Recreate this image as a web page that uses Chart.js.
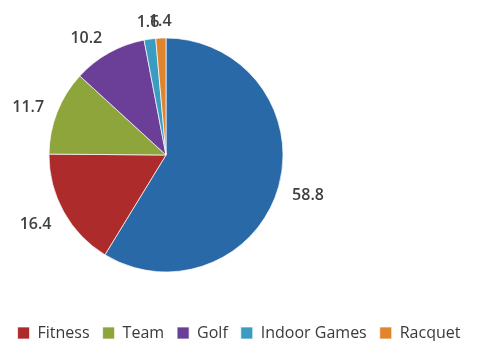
<!DOCTYPE html>
<html>
<head>
<meta charset="utf-8">
<script src="https://cdn.jsdelivr.net/npm/chart.js@4.4.1/dist/chart.umd.min.js"></script>
<style>
  html, body { margin: 0; padding: 0; background: #fff; }
  #wrap { width: 478px; height: 341px; }
</style>
</head>
<body>
<div id="wrap"><canvas id="sportsPie"></canvas></div>
<script>
// share of participants by sport category (percent)
const categories = ['Other', 'Fitness', 'Team', 'Golf', 'Indoor Games', 'Racquet'];
const shares = [58.8, 16.4, 11.7, 10.2, 1.6, 1.4];
const sliceColors = ['#2a69a8', '#ae2b2b', '#8ea53b', '#6b3f97', '#3a9cc0', '#e0842e'];

// pie sits left of centre, legend hugs the bottom edge
const pieCenter = { x: 166, y: 155 };
const legendDrop = 10;

const movePie = {
  id: 'movePie',
  afterLayout(chart) {
    const a = chart.chartArea;
    const dx = pieCenter.x - (a.left + a.right) / 2;
    const dy = pieCenter.y - (a.top + a.bottom) / 2;
    a.left += dx; a.right += dx;
    a.top += dy; a.bottom += dy;
    chart.legend.top += legendDrop;
    chart.legend.bottom += legendDrop;
  }
};

// value labels just outside each slice
const outsideLabels = {
  id: 'outsideLabels',
  afterDatasetsDraw(chart) {
    const ctx = chart.ctx;
    const meta = chart.getDatasetMeta(0);
    ctx.save();
    ctx.font = '600 16px "Open Sans"';
    ctx.fillStyle = '#404040';
    ctx.textBaseline = 'middle';
    meta.data.forEach((arc, i) => {
      const p = arc.getProps(['x', 'y', 'startAngle', 'endAngle', 'outerRadius'], true);
      const mid = (p.startAngle + p.endAngle) / 2;
      const cos = Math.cos(mid), sin = Math.sin(mid);
      const d = p.outerRadius + 14;
      const x = p.x + cos * d;
      const y = p.y + sin * d + sin * 6 + 3;
      ctx.textAlign = Math.abs(cos) < 0.2 ? 'center' : (cos > 0 ? 'left' : 'right');
      ctx.fillText(shares[i].toFixed(1), x, y);
    });
    ctx.restore();
  }
};

new Chart(document.getElementById('sportsPie'), {
  type: 'pie',
  data: {
    labels: categories,
    datasets: [{
      data: shares,
      backgroundColor: sliceColors,
      borderColor: 'rgba(255,255,255,0.7)',
      borderWidth: 1
    }]
  },
  options: {
    responsive: true,
    maintainAspectRatio: false,
    animation: false,
    radius: 117,
    plugins: {
      tooltip: { enabled: false },
      legend: {
        position: 'bottom',
        labels: {
          boxWidth: 12,
          boxHeight: 12,
          padding: 13,
          color: '#3a3a3a',
          font: { family: 'Open Sans', size: 16 },
          filter: (item) => item.index !== 0
        }
      }
    }
  },
  plugins: [movePie, outsideLabels]
});
</script>
</body>
</html>
